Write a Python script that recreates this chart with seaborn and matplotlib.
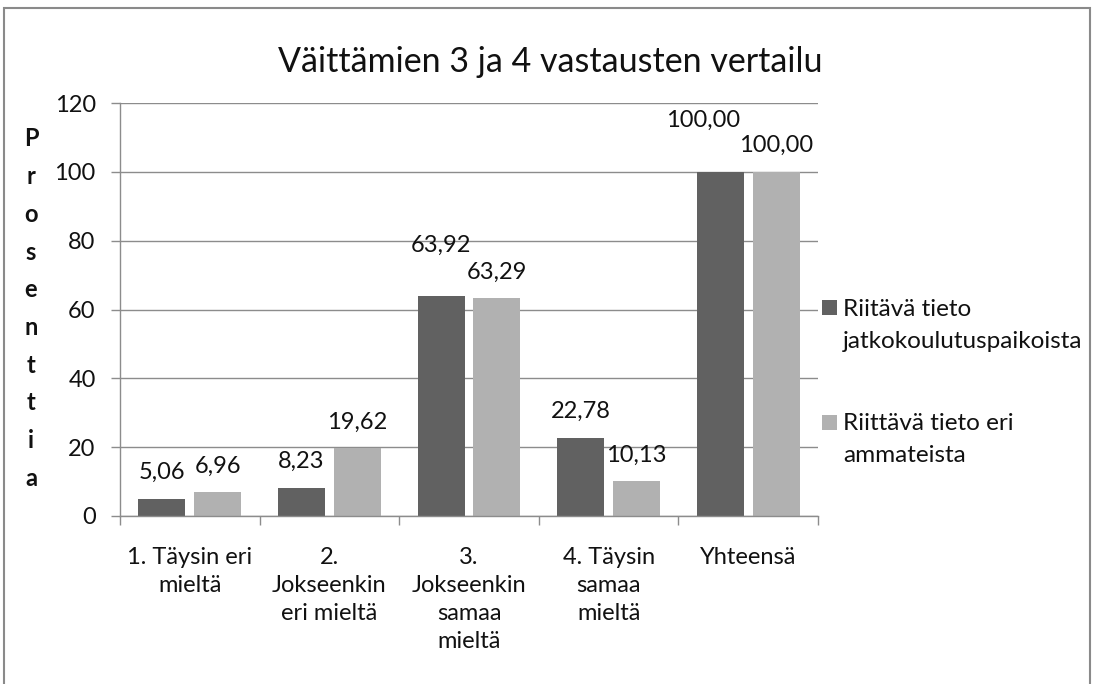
import matplotlib
matplotlib.use("Agg")
import matplotlib.pyplot as plt
from matplotlib.patches import Rectangle
import pandas as pd
import seaborn as sns

# --- data -------------------------------------------------------------
categories = [
    "1. Täysin eri\nmieltä",
    "2.\nJokseenkin\neri mieltä",
    "3.\nJokseenkin\nsamaa\nmieltä",
    "4. Täysin\nsamaa\nmieltä",
    "Yhteensä",
]
series_names = [
    "Riitävä tieto\njatkokoulutuspaikoista",
    "Riittävä tieto eri\nammateista",
]
values_jatko = [5.06, 8.23, 63.92, 22.78, 100.00]
values_ammatit = [6.96, 19.62, 63.29, 10.13, 100.00]
y_ticks = [0, 20, 40, 60, 80, 100, 120]
title_text = "Väittämien 3 ja 4 vastausten vertailu"
y_label_text = "Prosenttia"

colors = ["#616161", "#b1b1b1"]
grid_color = "#8c8c8c"
text_color = "#111111"

df = pd.DataFrame({
    "kategoria": categories * 2,
    "arvo": values_jatko + values_ammatit,
    "sarja": [series_names[0]] * len(categories) + [series_names[1]] * len(categories),
})

# --- figure -----------------------------------------------------------
sns.set_theme(style="white")
plt.rcParams["font.family"] = ["Lato", "DejaVu Sans"]

W, H, DPI = 1095, 684, 100
fig = plt.figure(figsize=(W / DPI, H / DPI), dpi=DPI)
PX = 72.0 / DPI  # points per pixel

left, right, top, bottom = 120, 818, 103, 516
ax = fig.add_axes([left / W, 1 - bottom / H, (right - left) / W, (bottom - top) / H])

sns.barplot(
    data=df, x="kategoria", y="arvo", hue="sarja", order=categories,
    hue_order=series_names, palette=colors, saturation=1, width=0.8,
    gap=0.16, linewidth=0, legend=False, ax=ax,
)

ax.set_xlim(-0.5, len(categories) - 0.5)
ax.set_ylim(0, 120)
ax.set_yticks(y_ticks)
ax.set_yticklabels([str(t) for t in y_ticks], fontsize=17, color=text_color)
ax.yaxis.grid(True, color=grid_color, linewidth=1)
ax.set_axisbelow(True)
ax.set_xlabel("")
ax.set_ylabel("")

# category labels, boundary ticks between categories
ax.set_xticks(range(len(categories)))
ax.set_xticklabels(categories, fontsize=17, color=text_color, linespacing=1.42, va="top")
ax.set_xticks([i - 0.5 for i in range(len(categories) + 1)], minor=True)
ax.tick_params(axis="x", which="major", length=0, pad=22)
ax.tick_params(axis="x", which="minor", length=9 * PX, width=1, color=grid_color, direction="out", bottom=True)
ax.tick_params(axis="y", which="major", length=9 * PX, width=1, color=grid_color, direction="out", left=True, pad=11)

for side in ["top", "right"]:
    ax.spines[side].set_visible(False)
for side in ["left", "bottom"]:
    ax.spines[side].set_color(grid_color)
    ax.spines[side].set_linewidth(1)

# value labels above bars (nudges in pixels where labels would collide)
nudges = {(0, 2): (0, 25), (0, 4): (-17, 25)}
for s_idx, (container, vals) in enumerate(zip(ax.containers, [values_jatko, values_ammatit])):
    for c_idx, (bar, v) in enumerate(zip(container, vals)):
        dx, dy = nudges.get((s_idx, c_idx), (0, 0))
        ax.annotate(
            f"{v:.2f}".replace(".", ","),
            (bar.get_x() + bar.get_width() / 2, v),
            xytext=(dx * PX, (26 + dy) * PX), textcoords="offset points",
            ha="center", va="center", fontsize=17, color=text_color,
        )

# title
fig.text(550 / W, 1 - 62 / H, title_text, ha="center", va="center",
         fontsize=24.5, color=text_color)

# stacked vertical axis title
for i, ch in enumerate(y_label_text):
    fig.text(31 / W, 1 - (139 + i * 37.7) / H, ch, ha="center", va="center",
             fontsize=17, fontweight="bold", color=text_color)

# legend with marker aligned to the first line of each entry
legend_rows = [(307, colors[0], series_names[0]), (422, colors[1], series_names[1])]
for y_px, col, name in legend_rows:
    fig.patches.append(Rectangle((822 / W, 1 - (y_px + 7.5) / H), 15 / W, 15 / H,
                                 transform=fig.transFigure, facecolor=col, edgecolor="none"))
    for j, line in enumerate(name.split("\n")):
        fig.text(843 / W, 1 - (y_px + 2 + j * 32) / H, line, ha="left", va="center",
                 fontsize=17.5, color=text_color)

# chart frame
fig.patches.append(Rectangle((4 / W, -0.05), (1090 - 4) / W, 1.05 - 8 / H,
                             transform=fig.transFigure, facecolor="none",
                             edgecolor="#8a8a8a", linewidth=1.5, zorder=10))

fig.savefig("out.png", dpi=DPI, facecolor="white")
